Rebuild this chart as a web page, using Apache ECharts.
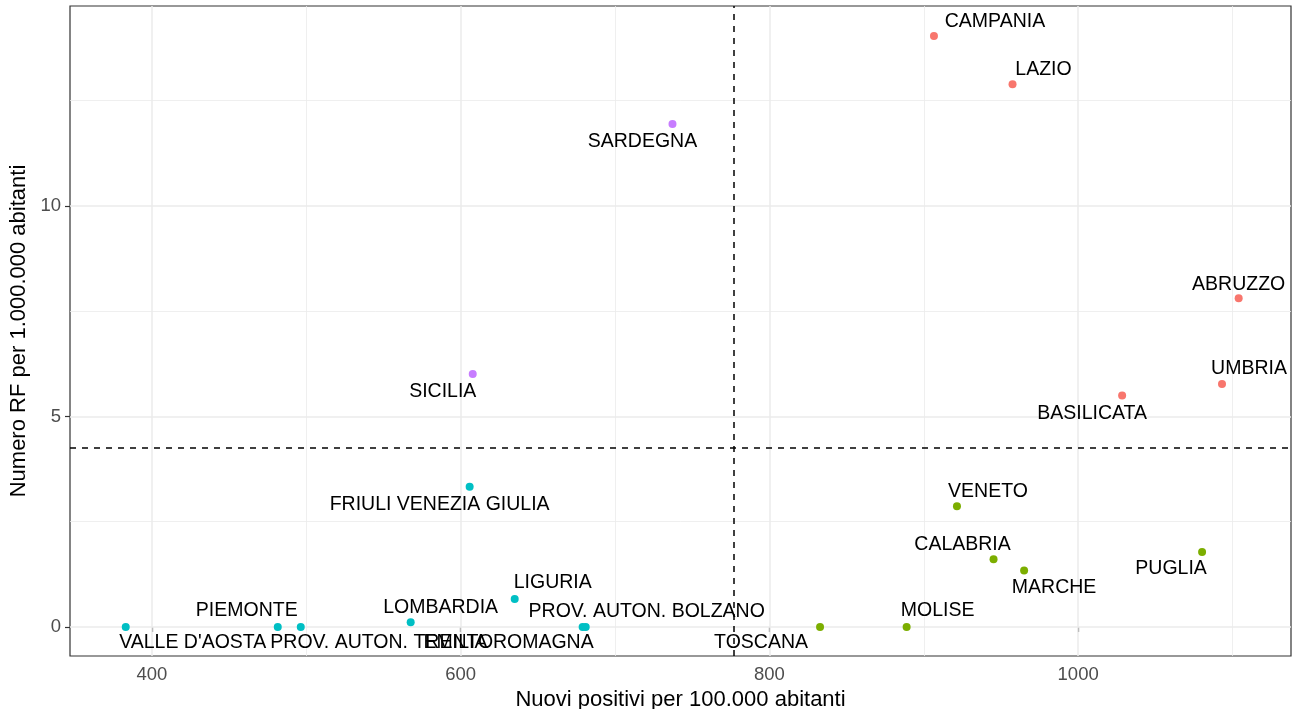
<!DOCTYPE html>
<html>
<head>
<meta charset="utf-8">
<script src="https://cdn.jsdelivr.net/npm/echarts@6/dist/echarts.min.js"></script>
<style>html,body{margin:0;padding:0;background:#fff}#chart{width:1292px;height:709px}</style>
</head>
<body>
<div id="chart"></div>
<script>
// ---- data ----
const regions = ["CAMPANIA","LAZIO","ABRUZZO","UMBRIA","BASILICATA",
  "SARDEGNA","SICILIA",
  "FRIULI VENEZIA GIULIA","LIGURIA","LOMBARDIA","PIEMONTE","PROV. AUTON. TRENTO","VALLE D'AOSTA","EMILIA ROMAGNA","PROV. AUTON. BOLZANO",
  "VENETO","CALABRIA","MARCHE","PUGLIA","MOLISE","TOSCANA"];
const positivi = [906.6, 957.5, 1104, 1093.2, 1028.5,
  737.2, 607.8,
  605.8, 635, 567.6, 481.5, 496.4, 383, 679, 681,
  921.5, 945.2, 965, 1080.3, 888.9, 832.8];
const rf = [14.04, 12.89, 7.81, 5.77, 5.50,
  11.95, 6.01,
  3.33, 0.665, 0.11, 0, 0, 0, 0, 0,
  2.87, 1.61, 1.34, 1.78, 0, 0];
const cluster = [1,1,1,1,1, 4,4, 3,3,3,3,3,3,3,3, 2,2,2,2,2,2];
const clusterIds = [1,2,3,4];
const xTicks = [400, 600, 800, 1000];
const yTicks = [0, 5, 10];
const xMinorGrid = [500, 700, 900, 1100];
const yMinorGrid = [2.5, 7.5, 12.5];
const vRef = 776.7;
const hRef = 4.245;

// ---- layout / style ----
const clusterColors = {1:'#F8766D', 2:'#7CAE00', 3:'#00BFC4', 4:'#C77CFF'};
const labelOffsets = {
  "CAMPANIA":[61,-14], "LAZIO":[31,-15], "ABRUZZO":[0,-14], "UMBRIA":[27,-15], "BASILICATA":[-30,18],
  "SARDEGNA":[-30,18], "SICILIA":[-30,18],
  "FRIULI VENEZIA GIULIA":[-30,18], "LIGURIA":[38,-16], "LOMBARDIA":[30,-15], "PIEMONTE":[-31,-16],
  "PROV. AUTON. TRENTO":[81,16], "VALLE D'AOSTA":[67,16], "EMILIA ROMAGNA":[-74,16], "PROV. AUTON. BOLZANO":[61,-15],
  "VENETO":[31,-15], "CALABRIA":[-31,-15], "MARCHE":[30,17], "PUGLIA":[-31,17], "MOLISE":[31,-16], "TOSCANA":[-59,16]
};
const FONT = "'Liberation Sans', Arial, sans-serif";

const chart = echarts.init(document.getElementById('chart'), null, {renderer:'canvas'});

function gridLines(vals, axis, width) {
  return vals.map(v => ({[axis]: v, lineStyle:{color:'#EBEBEB', width:width, type:'solid'}}));
}

const pointSeries = clusterIds.map(c => ({
  type: 'scatter',
  name: 'c' + c,
  z: 5,
  symbolSize: 8,
  itemStyle: {color: clusterColors[c], opacity: 1},
  label: {show: true, position: 'inside', formatter: '{b}', fontSize: 19.5, fontFamily: FONT, color: '#000',
    align: 'center', verticalAlign: 'middle'},
  emphasis: {disabled: true},
  data: regions.map((r, i) => ({r, i})).filter(o => cluster[o.i] === c).map(o => ({
    name: o.r,
    value: [positivi[o.i], rf[o.i]],
    label: {offset: labelOffsets[o.r]}
  }))
}));

const option = {
  animation: false,
  backgroundColor: '#fff',
  grid: {left: 70, right: 1, top: 6, bottom: 53, show: true, borderColor: '#333', borderWidth: 1.2,
    backgroundColor: 'transparent', containLabel: false, outerBoundsMode: 'none'},
  xAxis: {
    type: 'value', min: 346.9, max: 1137.9,
    name: 'Nuovi positivi per 100.000 abitanti', nameLocation: 'middle', nameGap: 29,
    nameTextStyle: {fontSize: 22, fontFamily: FONT, color: '#000'},
    axisLine: {show: false},
    axisTick: {show: true, customValues: xTicks, length: 5, lineStyle: {color: '#333', width: 1.2}},
    axisLabel: {customValues: xTicks, fontSize: 18.5, fontFamily: FONT, color: '#4D4D4D', margin: 9,
      formatter: v => String(v)},
    splitLine: {show: false}
  },
  yAxis: {
    type: 'value', min: -0.69, max: 14.75,
    name: 'Numero RF per 1.000.000 abitanti', nameLocation: 'middle', nameGap: 33, nameRotate: 90,
    nameTextStyle: {fontSize: 22, fontFamily: FONT, color: '#000'},
    axisLine: {show: false},
    axisTick: {show: true, customValues: yTicks, length: 5, lineStyle: {color: '#333', width: 1.2}},
    axisLabel: {customValues: yTicks, fontSize: 18.5, fontFamily: FONT, color: '#4D4D4D', margin: 9,
      formatter: v => String(v)},
    splitLine: {show: false}
  },
  series: [
    {
      type: 'scatter', data: [], z: 1, silent: true,
      markLine: {
        silent: true, symbol: 'none', label: {show: false}, animation: false,
        data: [].concat(
          gridLines(xMinorGrid, 'xAxis', 0.8),
          gridLines(yMinorGrid, 'yAxis', 0.8),
          gridLines(xTicks, 'xAxis', 1.5),
          gridLines(yTicks, 'yAxis', 1.5)
        )
      }
    },
    {
      type: 'scatter', data: [], z: 6, silent: true,
      markLine: {
        silent: true, symbol: 'none', label: {show: false}, animation: false,
        lineStyle: {color: '#000', width: 1.5, type: [6, 6]},
        data: [{xAxis: vRef}, {yAxis: hRef}]
      }
    }
  ].concat(pointSeries)
};
chart.setOption(option);
</script>
</body>
</html>
